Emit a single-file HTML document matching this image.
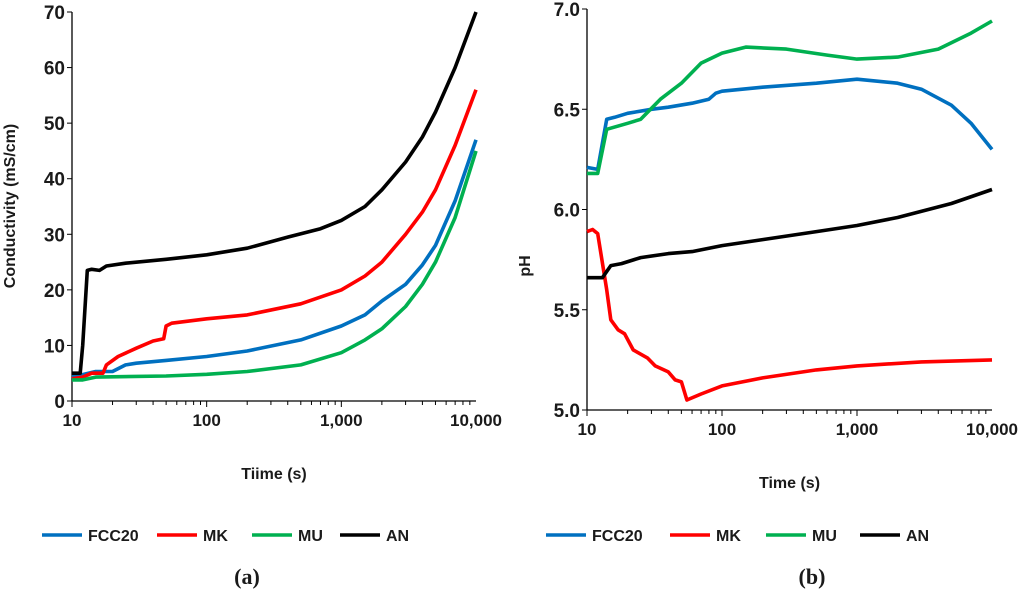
<!DOCTYPE html>
<html><head><meta charset="utf-8"><style>
body{margin:0;background:#fff;width:1024px;height:593px;overflow:hidden}
svg text{font-family:"Liberation Sans",Arial,sans-serif;font-weight:bold;fill:#1a1a1a}
</style></head><body>
<svg id="s" width="1024" height="593" xmlns="http://www.w3.org/2000/svg"></svg>
<script>
const xTickLabels=["10","100","1,000","10,000"];
const condTicks=[0,10,20,30,40,50,60,70];
const phTicks=["5.0","5.5","6.0","6.5","7.0"];
const seriesNames=["FCC20","MK","MU","AN"];
const seriesColors=["#0070c0","#ff0000","#00b050","#000000"];
// conductivity (a)
const condT_FCC=[10,15,20,25,30,50,100,200,500,1000,1500,2000,3000,4000,5000,7000,10000];
const condV_FCC=[4.3,5.3,5.3,6.5,6.8,7.3,8,9,11,13.5,15.5,18,21,24.5,28,36,47];
const condT_MK=[10,12,14,17,18,22,30,40,48,50,55,100,200,500,1000,1500,2000,3000,4000,5000,7000,10000];
const condV_MK=[4,4.3,5,5,6.5,8,9.5,10.8,11.2,13.5,14,14.8,15.5,17.5,20,22.5,25,30,34,38,46,56];
const condT_MU=[10,12,15,50,100,200,500,1000,1500,2000,3000,4000,5000,7000,10000];
const condV_MU=[3.8,3.8,4.3,4.5,4.8,5.3,6.5,8.7,11,13,17,21,25,33,45];
const condT_AN=[10,11,11.5,12,13,14,16,18,25,50,100,200,400,700,1000,1500,2000,3000,4000,5000,7000,10000];
const condV_AN=[5,5,5,10,23.5,23.7,23.5,24.3,24.8,25.5,26.3,27.5,29.5,31,32.5,35,38,43,47.5,52,60,70];
// pH (b)
const phT_FCC=[10,12,14,16,20,30,40,60,80,90,100,200,500,1000,2000,3000,5000,7000,10000];
const phV_FCC=[6.21,6.2,6.45,6.46,6.48,6.5,6.51,6.53,6.55,6.58,6.59,6.61,6.63,6.65,6.63,6.6,6.52,6.43,6.3];
const phT_MK=[10,11,12,14,15,17,19,22,28,32,40,45,50,55,70,100,200,500,1000,3000,10000];
const phV_MK=[5.89,5.9,5.88,5.6,5.45,5.4,5.38,5.3,5.26,5.22,5.19,5.15,5.14,5.05,5.08,5.12,5.16,5.2,5.22,5.24,5.25];
const phT_MU=[10,12,14,20,25,35,50,70,100,150,300,600,1000,2000,4000,7000,10000];
const phV_MU=[6.18,6.18,6.4,6.43,6.45,6.55,6.63,6.73,6.78,6.81,6.8,6.77,6.75,6.76,6.8,6.88,6.94];
const phT_AN=[10,13,15,18,25,40,60,100,200,500,1000,2000,5000,10000];
const phV_AN=[5.66,5.66,5.72,5.73,5.76,5.78,5.79,5.82,5.85,5.89,5.92,5.96,6.03,6.1];

const S=document.getElementById('s');const NS="http://www.w3.org/2000/svg";
function el(t,a,txt){const e=document.createElementNS(NS,t);for(const k in a)e.setAttribute(k,a[k]);if(txt!==undefined)e.textContent=txt;S.appendChild(e);return e;}

function panel(p){
  const X=t=>p.x0+(Math.log10(t)-1)/3*(p.x1-p.x0);
  const Y=v=>p.yb+(v-p.vmin)/(p.vmax-p.vmin)*(p.yt-p.yb);
  let a=el('line',{x1:p.x0,y1:p.yt,x2:p.x0,y2:p.yb,stroke:'#000','stroke-width':1.3});
  
  a=el('line',{x1:p.x0,y1:p.yb,x2:p.x1,y2:p.yb,stroke:'#000','stroke-width':1.3});
  
  p.yticks.forEach(v=>{const y=Y(+v);
    el('line',{x1:p.x0-5,y1:y,x2:p.x0,y2:y,stroke:'#000'});
    const t=el('text',{x:p.x0-7,y:y+7,'text-anchor':'end','font-size':19},v);
    });
  for(let d=1;d<4;d++)for(let m=1;m<10;m++){const t=Math.pow(10,d)*m;if(t>10000)break;
    el('line',{x1:X(t),y1:p.yb,x2:X(t),y2:p.yb+(m==1?6:4),stroke:'#000'});}
  el('line',{x1:X(10),y1:p.yb,x2:X(10),y2:p.yb+6,stroke:'#000'});
  xTickLabels.forEach((l,i)=>{const t=el('text',{x:X(Math.pow(10,i+1)),y:p.yb+25,'text-anchor':'middle','font-size':17},l);
    });
  let t=el('text',{x:(p.x0+p.x1)/2,y:p.yb+78,'text-anchor':'middle','font-size':16},p.xt);
  
  t=el('text',{x:0,y:0,'text-anchor':'middle','font-size':16,transform:`translate(${p.ytx},${p.yty}) rotate(-90)`},p.yt2);
  
  p.series.forEach((s,i)=>{const d=s[0].map((tt,j)=>(j?'L':'M')+X(tt).toFixed(1)+','+Y(s[1][j]).toFixed(1)).join('');
    const pa=el('path',{d:d,fill:'none',stroke:seriesColors[i],'stroke-width':3.6,'stroke-linejoin':'round'});
    });
  p.leg.forEach((lx,i)=>{const l=el('line',{x1:lx,y1:535,x2:lx+40,y2:535,stroke:seriesColors[i],'stroke-width':3.5});
    
    const tx=el('text',{x:lx+46,y:541,'font-size':16},seriesNames[i]);
    });
  t=el('text',{x:p.lab,y:584,'text-anchor':'middle','font-size':22,style:'font-family:"Liberation Serif",serif'});
  t.innerHTML='(<tspan font-weight="bold">'+p.letter+'</tspan>)';
  
}
panel({id:'conductivity',x0:72,x1:476,yt:12,yb:401,vmin:0,vmax:70,yticks:condTicks.map(String),xt:'Tiime (s)',yt2:'Conductivity (mS/cm)',ytx:15,yty:206,
  series:[[condT_FCC,condV_FCC],[condT_MK,condV_MK],[condT_MU,condV_MU],[condT_AN,condV_AN]],leg:[42,157,252,340],lab:247,letter:'a'});
panel({id:'ph',x0:587,x1:992,yt:9,yb:410,vmin:5,vmax:7,yticks:phTicks,xt:'Time (s)',yt2:'pH',ytx:530,yty:266,
  series:[[phT_FCC,phV_FCC],[phT_MK,phV_MK],[phT_MU,phV_MU],[phT_AN,phV_AN]],leg:[546,670,766,860],lab:812,letter:'b'});
</script>
</body></html>
